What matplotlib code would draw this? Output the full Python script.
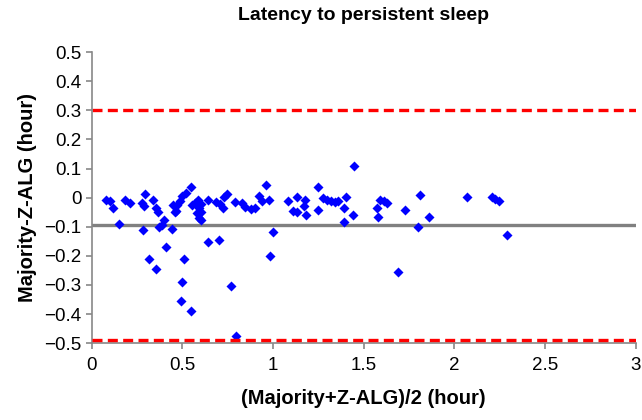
import matplotlib
matplotlib.use("Agg")
import matplotlib.pyplot as plt

plt.rcParams['font.family'] = ['Liberation Sans', 'DejaVu Sans']

# Bland-Altman data
avg_hours = [0.08, 0.10, 0.115, 0.15, 0.185, 0.21, 0.275, 0.29, 0.295, 0.28,
             0.34, 0.355, 0.365, 0.315, 0.355, 0.37, 0.385, 0.40, 0.41, 0.44,
             0.46, 0.47, 0.485, 0.50, 0.52, 0.545, 0.51, 0.50, 0.49, 0.545,
             0.57, 0.59, 0.60, 0.585, 0.60, 0.605, 0.64, 0.64, 0.70, 0.685,
             0.71, 0.725, 0.73, 0.745, 0.77, 0.795, 0.79, 0.83, 0.845, 0.88,
             0.90, 0.92, 0.94, 0.963, 0.975, 1.0, 0.985, 1.08, 1.11, 1.13,
             1.13, 1.175, 1.17, 1.18, 1.25, 1.25, 1.275, 1.30, 1.32, 1.34,
             1.36, 1.40, 1.39, 1.44, 1.39, 1.445, 1.59, 1.61, 1.63, 1.575,
             1.58, 1.69, 1.73, 1.81, 1.86, 1.80, 2.07, 2.21, 2.225, 2.245,
             2.29, 0.446, 0.465, 0.555, 0.58, 0.59]
diff_hours = [-0.008, -0.012, -0.036, -0.092, -0.008, -0.018, -0.018, -0.028, 0.012, -0.11,
              -0.007, -0.036, -0.05, -0.21, -0.246, -0.10, -0.093, -0.076, -0.168, -0.108,
              -0.05, -0.024, -0.013, 0.004, 0.016, 0.035, -0.211, -0.289, -0.355, -0.388,
              -0.02, -0.035, -0.05, -0.008, -0.022, -0.076, -0.009, -0.152, -0.145, -0.016,
              -0.022, -0.036, 0.002, 0.012, -0.303, -0.476, -0.016, -0.02, -0.032, -0.04,
              -0.036, 0.004, -0.013, 0.045, -0.007, -0.118, -0.20, -0.012, -0.047, 0.001,
              -0.05, -0.007, -0.03, -0.06, -0.041, 0.036, -0.001, -0.009, -0.013, -0.016,
              -0.013, 0.002, -0.036, -0.059, -0.084, 0.11, -0.007, -0.013, -0.018, -0.036,
              -0.068, -0.254, -0.044, 0.008, -0.068, -0.10, 0.001, 0.001, -0.005, -0.01,
              -0.128, -0.024, -0.047, -0.024, -0.053, -0.07]

mean_diff = -0.095
upper_loa = 0.30
lower_loa = -0.49

fig = plt.figure(figsize=(6.42, 4.2), dpi=100)
ax = fig.add_axes([0.143, 0.183, 0.847, 0.693])

ax.axhline(mean_diff, color='#808080', lw=2.4, zorder=1)
ax.axhline(upper_loa, color='#ff0000', lw=2.4, ls=(0, (3, 1.6)), zorder=1)
ax.axhline(lower_loa, color='#ff0000', lw=2.4, ls=(0, (3, 1.6)), zorder=3)
ax.scatter(avg_hours, diff_hours, marker='D', s=26, color='#0000ff', zorder=2, linewidths=0)

ax.set_xlim(0, 3)
ax.set_ylim(-0.5, 0.5)
ax.set_xticks([0, 0.5, 1, 1.5, 2, 2.5, 3])
ax.set_xticklabels(['0', '0.5', '1', '1.5', '2', '2.5', '3'])
ax.set_yticks([0.5, 0.4, 0.3, 0.2, 0.1, 0, -0.1, -0.2, -0.3, -0.4, -0.5])
ax.set_yticklabels(['0.5', '0.4', '0.3', '0.2', '0.1', '0', '\u22120.1', '\u22120.2',
                    '\u22120.3', '\u22120.4', '\u22120.5'])

for s in ['top', 'right']:
    ax.spines[s].set_visible(False)
for s in ['left', 'bottom']:
    ax.spines[s].set_color('#888888')
    ax.spines[s].set_linewidth(1.2)
ax.tick_params(colors='#888888', labelcolor='black', labelsize=13.5, length=4, width=1.2)
ax.tick_params(axis='x', pad=6)

ax.set_title('Latency to persistent sleep', fontsize=14, fontweight='bold', pad=23)
ax.set_xlabel('(Majority+Z-ALG)/2 (hour)', fontsize=14.5, fontweight='bold', labelpad=11)
ax.set_ylabel('Majority-Z-ALG (hour)', fontsize=14.5, fontweight='bold', labelpad=5)

fig.savefig('out.png', dpi=100)
